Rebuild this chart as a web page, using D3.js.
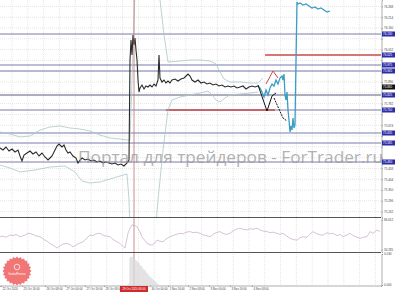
<!DOCTYPE html>
<html>
<head>
<meta charset="utf-8">
<script src="https://cdn.jsdelivr.net/npm/d3@7"></script>
<style>
  body { margin: 0; background: #fff; }
  svg { display: block; }
  text { font-family: "Liberation Sans", Arial, sans-serif; }
</style>
</head>
<body>
<svg id="chart"></svg>
<script>
// price line (bar index / price)
const mainBars = [0,3,6,9,12,15,18,20,22,24,27,30,33,36,39,42,45,48,50,52,55,57,59,62,64,66,68,70,73,76,78,80,82,85,88,91,94,97,100,103,106,109,112,115,118,121,124,127,129,130,131,132,133,134,135,136,137,138,139,140,142,144,146,148,150,152,154,156,158,159,160,162,164,166,168,170,172,175,178,181,184,186,188,190,192,195,198,201,204,207,210,213,216,219,222,225,228,231,234,237,240,243,246,249,252,255,258];
const mainClose = [75.560,75.550,75.565,75.545,75.555,75.540,75.550,75.520,75.495,75.525,75.535,75.545,75.530,75.540,75.520,75.535,75.515,75.500,75.510,75.520,75.550,75.570,75.580,75.565,75.575,75.550,75.535,75.540,75.520,75.510,75.485,75.500,75.510,75.500,75.505,75.495,75.500,75.490,75.495,75.485,75.490,75.485,75.480,75.485,75.475,75.480,75.470,75.485,75.500,76.000,76.100,76.025,76.125,76.075,76.110,76.050,76.000,75.900,75.840,75.860,75.875,75.855,75.870,75.865,75.875,75.865,75.880,75.870,75.900,76.025,75.910,75.890,75.900,75.885,75.895,75.885,75.900,75.905,75.895,75.905,75.910,75.920,75.930,75.920,75.900,75.890,75.900,75.885,75.890,75.880,75.885,75.875,75.880,75.870,75.875,75.865,75.870,75.865,75.870,75.860,75.865,75.870,75.855,75.865,75.870,75.865,75.870];

const blueBars = [258,260,262,264,266,268,270,272,274,276,278,280,282,283,284,285,286,287,288,289,290,291,292,293,294,295,296,297,298,300,303,306,309,312,315,318,321,324,327,330];
const blueClose = [75.870,75.860,75.840,75.815,75.850,75.825,75.860,75.880,75.870,75.900,75.880,75.910,75.920,75.900,75.930,75.825,75.800,75.840,75.750,75.700,75.640,75.670,75.650,75.710,75.660,75.675,76.000,76.290,76.280,76.285,76.275,76.280,76.270,76.260,76.265,76.255,76.260,76.250,76.240,76.245];

// bollinger bands
const upperBars = [0,10,20,30,40,50,60,70,80,90,100,110,120,127,130,132,134,136,145,155,160,164,168,180,190,200,210,216,220,224,230,240,250,258,263];
const upperBand = [75.640,75.630,75.615,75.620,75.650,75.665,75.670,75.660,75.655,75.645,75.625,75.610,75.605,75.600,75.600,75.900,76.200,76.450,76.550,76.500,76.300,76.125,75.990,75.995,76.000,76.000,75.995,75.980,75.940,75.905,75.890,75.890,75.885,75.885,75.910];
const lowerBars = [0,10,20,35,50,65,75,82,90,100,110,120,127,129,131,140,150,155,158,163,168,172,180,190,200,208,212,216,220,225,230,240,250,258];
const lowerBand = [75.475,75.460,75.440,75.450,75.465,75.470,75.440,75.395,75.385,75.390,75.405,75.420,75.430,75.300,75.000,74.800,74.900,75.125,75.300,75.550,75.750,75.800,75.815,75.825,75.835,75.845,75.825,75.800,75.790,75.810,75.825,75.830,75.835,75.840];

// drawn forecast paths
const fcBlackBars = [258,267,272,276];
const fcBlack = [75.875,75.745,75.820,75.835];
const fcDashBars = [274,283,287];
const fcDash = [75.810,75.710,75.695];
const fcRedBars = [266,273,278];
const fcRed = [75.880,75.945,75.910];

// horizontal levels
const levelPrices = [76.130, 75.975, 75.945, 75.825, 75.750, 75.635, 75.585, 75.490];
const redLevelPrices = [76.025, 75.750];
const redLevelFrom = [265, 166];
const redLevelTo = [381, 275];
const labelPrices = [76.130, 76.025, 75.975, 75.945, 75.825, 75.750, 75.635, 75.585, 75.490];
const lastPrice = 75.865;

const priceTicks = [76.268,76.214,76.160,76.106,76.052,75.998,75.944,75.890,75.836,75.782,75.728,75.674,75.620,75.566,75.512,75.458,75.404,75.350,75.296,75.242];

// oscillator
const oscBars = [0,3,6,10,13,16,20,24,27,30,34,37,40,44,47,50,53,57,60,63,67,70,73,77,80,83,86,90,93,96,100,103,106,110,113,116,120,123,125,128,130,132,134,137,140,142,145,147,150,152,155,157,160,163,166,170,173,176,180,183,186,190,193,196,200,203,206,210,213,216,220,223,226,230,233,236,240,243,247,250,253,257,260,263,267,270,273,277,280,283,287,290,293,297,300,303,307,310,313,317,320,323,327,330,333,337,340,343,347,350,353,357,360,363,367,370,373,377,380];
const oscValues = [57,58,56,60,59,61,57,59,62,63,60,58,57,52,49,45,42,37,41,44,45,43,39,43,46,48,53,60,59,62,63,60,58,57,52,49,45,40,37,63,72,78,77,75,65,57,50,45,43,42,46,51,49,48,53,57,59,61,63,62,65,66,64,65,63,60,59,57,61,64,66,63,61,63,67,70,72,70,69,71,70,72,69,67,66,64,65,63,61,63,58,54,52,51,55,57,56,62,66,62,60,60,64,62,63,59,61,57,60,63,59,56,54,56,57,66,63,69,66];
const oscTicks = [86.612, 34.285];

// histogram
const histBars = [129,130,131,132,133,134,135,136,137,138,139,140,141,142,143,144,145,146,147,148,149,150,151,152,153,154,155,156,157,158];
const histValues = [0.002,0.030,0.031,0.031,0.030,0.029,0.028,0.027,0.026,0.025,0.024,0.022,0.021,0.020,0.018,0.017,0.016,0.014,0.013,0.012,0.010,0.009,0.008,0.007,0.006,0.005,0.004,0.003,0.002,0.001];
const histTicks = [0.034, 0];

// time axis
const timeBars = [1,22,45,65,85,104,150,168,188,209,230,252];
const timeLabels = ["22 Oct 2020","23 Oct 16:00","26 Oct 08:00","27 Oct 00:00","27 Oct 16:00","28 Oct 08:00","30 Oct 00:00","1 Nov 16:00","2 Nov 08:00","3 Nov 00:00","3 Nov 16:00","4 Nov 08:00"];
const cursorBar = 134;
const cursorLabel = "29 Oct 2020 08:00";

const W = 395, H = 293;
const plotRight = 381;
const mainBottom = 217, oscTop = 218, oscBottom = 252, histTop = 254, histBottom = 285;

const svg = d3.select("#chart").attr("width", W).attr("height", H);
svg.append("rect").attr("width", W).attr("height", H).attr("fill", "#fff");

const x = d3.scaleLinear().domain([0, 381]).range([0, plotRight]);
const y = d3.scaleLinear().domain([75.215, 76.300]).range([mainBottom, 0]);
const yOsc = d3.scaleLinear().domain([30, 90]).range([oscBottom, oscTop]);
const yHist = d3.scaleLinear().domain([0, 0.034]).range([histBottom, histTop]);

svg.append("clipPath").attr("id", "mainClip")
  .append("rect").attr("x", 0).attr("y", 0).attr("width", plotRight).attr("height", mainBottom);

// grid
const gridBars = d3.range(12, 381, 15.8);
svg.append("g").selectAll("line").data(gridBars).enter().append("line")
  .attr("x1", d => x(d)).attr("x2", d => x(d))
  .attr("y1", 0).attr("y2", histBottom)
  .attr("stroke", "#d4d4d4").attr("stroke-width", 0.6).attr("stroke-dasharray", "1,1");
svg.append("g").selectAll("line").data(priceTicks).enter().append("line")
  .attr("x1", 0).attr("x2", plotRight)
  .attr("y1", d => y(d)).attr("y2", d => y(d))
  .attr("stroke", "#d4d4d4").attr("stroke-width", 0.6).attr("stroke-dasharray", "1,1");

const main = svg.append("g").attr("clip-path", "url(#mainClip)");

// levels
main.selectAll(".lvl").data(levelPrices).enter().append("line")
  .attr("x1", 0).attr("x2", plotRight)
  .attr("y1", d => y(d)).attr("y2", d => y(d))
  .attr("stroke", (d, i) => i === 3 ? "#4a4a70" : "#6b6ba0").attr("stroke-width", 0.9);
main.selectAll(".rlvl").data(redLevelPrices).enter().append("line")
  .attr("x1", (d, i) => x(redLevelFrom[i])).attr("x2", (d, i) => x(redLevelTo[i]))
  .attr("y1", d => y(d)).attr("y2", d => y(d))
  .attr("stroke", "#c84848").attr("stroke-width", 1.4);

const line = (bars, vals, ys) => d3.line().x((d, i) => x(bars[i])).y(d => ys(d))(vals);

// bands
main.append("path").attr("d", line(upperBars, upperBand, y))
  .attr("fill", "none").attr("stroke", "#a9c9c6").attr("stroke-width", 0.8);
main.append("path").attr("d", line(lowerBars, lowerBand, y))
  .attr("fill", "none").attr("stroke", "#a9c9c6").attr("stroke-width", 0.8);

// price
main.append("path").attr("d", line(mainBars, mainClose, y))
  .attr("fill", "none").attr("stroke", "#2a2a2a").attr("stroke-width", 1.1);
main.append("path").attr("d", line(blueBars, blueClose, y))
  .attr("fill", "none").attr("stroke", "#3b9cc4").attr("stroke-width", 1.3);

// forecast
main.append("path").attr("d", line(fcBlackBars, fcBlack, y))
  .attr("fill", "none").attr("stroke", "#111").attr("stroke-width", 1);
main.append("path").attr("d", line(fcDashBars, fcDash, y))
  .attr("fill", "none").attr("stroke", "#111").attr("stroke-width", 1).attr("stroke-dasharray", "2,1");
main.append("path").attr("d", line(fcRedBars, fcRed, y))
  .attr("fill", "none").attr("stroke", "#d04848").attr("stroke-width", 1);

// cursor line
svg.append("line")
  .attr("x1", x(cursorBar)).attr("x2", x(cursorBar))
  .attr("y1", 0).attr("y2", histBottom)
  .attr("stroke", "#c07070").attr("stroke-width", 0.8);

// oscillator
svg.append("path").attr("d", line(oscBars, oscValues, yOsc))
  .attr("fill", "none").attr("stroke", "#c4aac4").attr("stroke-width", 0.7);

// histogram
svg.append("g").selectAll("rect").data(histValues).enter().append("rect")
  .attr("x", (d, i) => x(histBars[i]) - 0.5).attr("width", 1)
  .attr("y", d => yHist(d)).attr("height", d => histBottom - yHist(d))
  .attr("fill", "#dadada");

// separators
svg.append("line").attr("x1", 0).attr("x2", plotRight).attr("y1", 217.5).attr("y2", 217.5)
  .attr("stroke", "#555").attr("stroke-width", 1.2);
svg.append("line").attr("x1", 0).attr("x2", plotRight).attr("y1", 252.5).attr("y2", 252.5)
  .attr("stroke", "#555").attr("stroke-width", 1.2);

// watermark
svg.append("text")
  .attr("x", 78).attr("y", 163)
  .attr("textLength", 305).attr("lengthAdjust", "spacingAndGlyphs")
  .style("font-family", "'Open Sans', 'Noto Sans', sans-serif")
  .style("font-size", "17px").attr("fill", "#999").attr("opacity", 0.75)
  .text("Портал для трейдеров - ForTrader.ru");

// axes
const styleAxis = g => {
  g.select(".domain").attr("stroke", "#777").attr("stroke-width", 0.6);
  g.selectAll(".tick line").attr("stroke", "#777").attr("stroke-width", 0.5);
  g.selectAll("text").style("font-size", "3px").attr("fill", "#444");
};

// tick labels hidden behind price boxes, as the terminal does
const boxYs = labelPrices.concat([lastPrice]).map(p => y(p));
const hiddenTick = d => boxYs.some(b => Math.abs(b - y(d)) < 5);

svg.append("g").attr("transform", `translate(${plotRight + 0.5},0)`)
  .call(d3.axisRight(y).tickValues(priceTicks).tickSize(1.5).tickPadding(1).tickFormat(d3.format(".3f")))
  .call(styleAxis)
  .call(g => g.selectAll(".tick text").filter(hiddenTick).remove());
svg.append("g").attr("transform", `translate(${plotRight + 0.5},0)`)
  .call(d3.axisRight(yOsc).tickValues(oscTicks).tickSize(1.5).tickPadding(1).tickFormat(d3.format(".3f")))
  .call(styleAxis);
svg.append("g").attr("transform", `translate(${plotRight + 0.5},0)`)
  .call(d3.axisRight(yHist).tickValues(histTicks).tickSize(1.5).tickPadding(1).tickFormat(d3.format(".3f")))
  .call(styleAxis);

svg.append("g").attr("transform", `translate(0,${histBottom + 0.5})`)
  .call(d3.axisBottom(x).tickValues(timeBars).tickSize(1.5).tickPadding(1)
    .tickFormat((d, i) => timeLabels[i]))
  .call(styleAxis)
  .call(g => g.selectAll("text").attr("text-anchor", "start").attr("dx", 1).style("font-size", "2.8px"));

// price boxes
const boxes = svg.append("g");
labelPrices.forEach(p => {
  boxes.append("rect").attr("x", plotRight + 1).attr("y", y(p) - 2.5)
    .attr("width", 13).attr("height", 5).attr("fill", "#2c2ca6");
  boxes.append("text").attr("x", plotRight + 2).attr("y", y(p) + 1)
    .style("font-size", "3px").attr("fill", "#fff").text(d3.format(".3f")(p));
});
boxes.append("rect").attr("x", plotRight + 1).attr("y", y(lastPrice) - 2.5)
  .attr("width", 13).attr("height", 5).attr("fill", "#111");
boxes.append("text").attr("x", plotRight + 2).attr("y", y(lastPrice) + 1)
  .style("font-size", "3px").attr("fill", "#fff").text(d3.format(".3f")(lastPrice));

// cursor time box
svg.append("rect").attr("x", x(cursorBar) - 14).attr("y", histBottom + 1)
  .attr("width", 28).attr("height", 6).attr("fill", "#d02a2a");
svg.append("text").attr("x", x(cursorBar)).attr("y", histBottom + 5)
  .attr("text-anchor", "middle").style("font-size", "2.8px").attr("fill", "#fff").text(cursorLabel);

// logo
const cx = 17, cy = 271;
const star = d3.range(48).map(i => {
  const a = i * Math.PI * 2 / 48;
  const r = i % 2 ? 12.8 : 14.5;
  return [cx + r * Math.sin(a), cy - r * Math.cos(a)];
});
svg.append("polygon").attr("points", star.map(p => p.join(",")).join(" "))
  .attr("fill", "#f06868").attr("opacity", 0.9);
svg.append("circle").attr("cx", cx).attr("cy", cy - 4).attr("r", 2.8)
  .attr("fill", "none").attr("stroke", "#fff").attr("stroke-width", 0.7);
svg.append("text").attr("x", cx).attr("y", cy + 3.5).attr("text-anchor", "middle")
  .style("font-size", "3.6px").attr("fill", "#fff").text("InstaForex");
</script>
</body>
</html>
